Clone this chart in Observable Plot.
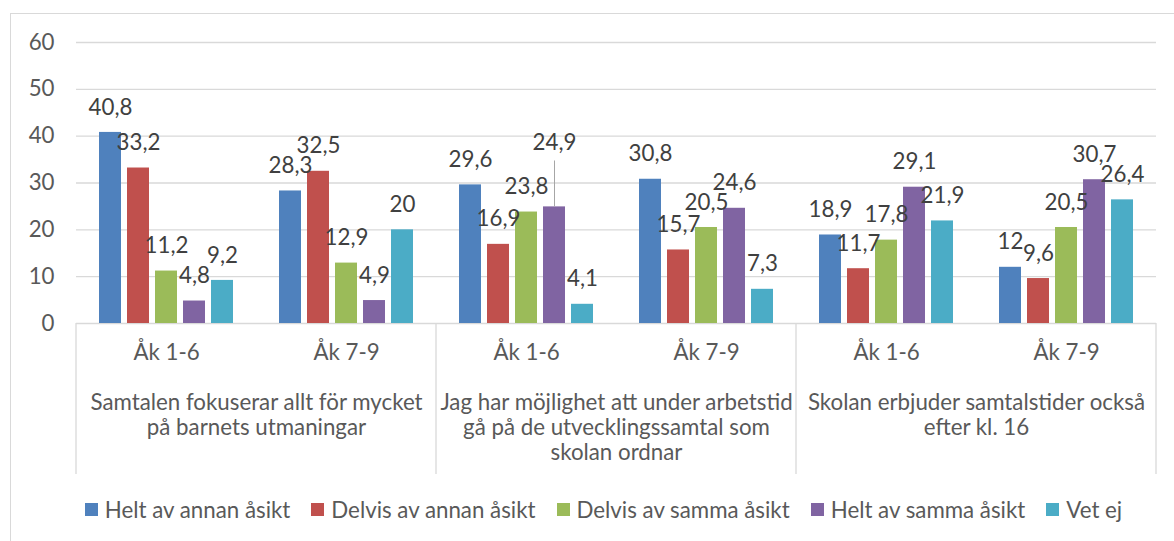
<!DOCTYPE html>
<html>
<head>
<meta charset="utf-8">
<script src="https://cdn.jsdelivr.net/npm/d3@7"></script>
<script src="https://cdn.jsdelivr.net/npm/@observablehq/plot@0.6"></script>
<style>
  html, body { margin: 0; padding: 0; background: #fff; overflow: hidden; width: 1174px; height: 541px; }
  #wrap { position: relative; width: 1174px; height: 541px; font-family: Lato, sans-serif; }
  #border { position: absolute; left: 10px; top: 13px; width: 1200px; height: 600px; border: 1.5px solid #d9d9d9; pointer-events: none; }
  #chart { position: absolute; left: 0; top: 0; }
  #legend { position: absolute; left: 0; top: 496px; width: 1174px; box-sizing: border-box; padding-left: 33px;
            display: flex; justify-content: center; gap: 21px; font-size: 22.3px; color: #595959; }
  .item { display: flex; align-items: center; gap: 7px; white-space: nowrap; }
  .sw { width: 13px; height: 13px; display: inline-block; }
</style>
</head>
<body>
<div id="wrap">
  <div id="border"></div>
  <div id="chart"></div>
  <div id="legend"></div>
</div>
<script>
// ---- data ----
const questions = [
  "Samtalen fokuserar allt för mycket\npå barnets utmaningar",
  "Jag har möjlighet att under arbetstid\ngå på de utvecklingssamtal som\nskolan ordnar",
  "Skolan erbjuder samtalstider också\nefter kl. 16"
];
const grades = ["Åk 1-6", "Åk 7-9"];
const seriesNames = ["Helt av annan åsikt", "Delvis av annan åsikt", "Delvis av samma åsikt", "Helt av samma åsikt", "Vet ej"];
const seriesColors = ["#4F81BD", "#C0504D", "#9BBB59", "#8064A2", "#4BACC6"];
// values per series, in order: Q1 Åk1-6, Q1 Åk7-9, Q2 Åk1-6, Q2 Åk7-9, Q3 Åk1-6, Q3 Åk7-9
const heltAvAnnan   = [40.8, 28.3, 29.6, 30.8, 18.9, 12];
const delvisAvAnnan = [33.2, 32.5, 16.9, 15.7, 11.7, 9.6];
const delvisAvSamma = [11.2, 12.9, 23.8, 20.5, 17.8, 20.5];
const heltAvSamma   = [4.8, 4.9, 24.9, 24.6, 29.1, 30.7];
const vetEj         = [9.2, 20, 4.1, 7.3, 21.9, 26.4];
const yTicks = [0, 10, 20, 30, 40, 50, 60];

const seriesValues = [heltAvAnnan, delvisAvAnnan, delvisAvSamma, heltAvSamma, vetEj];
const subKeys = [];
questions.forEach((q, qi) => grades.forEach(g => subKeys.push(qi + "|" + g)));
const rows = [];
seriesNames.forEach((s, si) => seriesValues[si].forEach((v, ki) => rows.push({key: subKeys[ki], series: s, value: v})));
const isMoved = d => d.key === subKeys[2] && d.series === seriesNames[3]; // 24,9 label moved up with leader
const groupRows = questions.map((q, qi) => ({key: qi + "|" + grades[0], label: q}));
const fmt = d => String(d.value).replace(".", ",");
const FS = 22.3;

const chart = Plot.plot({
  width: 1174,
  height: 490,
  marginLeft: 74,
  marginRight: 16,
  marginTop: 42,
  marginBottom: 167,
  style: {fontFamily: "Lato, sans-serif", fontSize: FS + "px", color: "#595959", background: "transparent"},
  fx: {domain: subKeys, padding: 0, label: null},
  x: {domain: seriesNames, paddingInner: 0.21, paddingOuter: 0.72, axis: null},
  y: {domain: [0, 60], label: null},
  color: {domain: seriesNames, range: seriesColors},
  marks: [
    Plot.gridY(yTicks, {stroke: "#d9d9d9", strokeOpacity: 1, strokeWidth: 1.3}),
    Plot.axisY(yTicks, {tickSize: 0, tickPadding: 22, color: "#595959", fontSize: FS, label: null}),
    Plot.axisFx({anchor: "bottom", tickSize: 0, tickPadding: 21, label: null, color: "#595959", fontSize: FS,
                 tickFormat: k => k.split("|")[1]}),
    Plot.barY(rows, {fx: "key", x: "series", y: "value", fill: "series"}),
    Plot.text(rows.filter(d => !isMoved(d)), {fx: "key", x: "series", y: "value", text: fmt, dy: -25, fill: "#404040", fontSize: FS}),
    Plot.ruleX(rows.filter(isMoved), {fx: "key", x: "series", y1: "value", y2: d => d.value + 9.8, stroke: "#a6a6a6", strokeWidth: 1}),
    Plot.text(rows.filter(isMoved), {fx: "key", x: "series", y: "value", text: fmt, dy: -64, fill: "#404040", fontSize: FS}),
    Plot.text(groupRows, {fx: "key", text: "label", frameAnchor: "bottom-right", textAnchor: "middle", lineAnchor: "top",
                          dy: 69, lineHeight: 1.12, fill: "#595959", fontSize: FS})
  ]
});

// category separators below the axis, placed with the fx scale
const fxS = chart.scale("fx");
const yS = chart.scale("y");
const y0 = yS.apply(0);
const seps = [0, 2, 4].map(i => fxS.apply(subKeys[i])).concat([fxS.apply(subKeys[5]) + fxS.bandwidth]);
const svg = d3.select(chart);
svg.append("g").selectAll("line").data(seps).join("line")
  .attr("x1", d => d).attr("x2", d => d)
  .attr("y1", y0).attr("y2", y0 + 151)
  .attr("stroke", "#d9d9d9").attr("stroke-width", 1.3);

document.getElementById("chart").appendChild(chart);

const legend = d3.select("#legend");
seriesNames.forEach((s, i) => {
  const it = legend.append("div").attr("class", "item");
  it.append("span").attr("class", "sw").style("background", seriesColors[i]);
  it.append("span").text(s);
});
</script>
</body>
</html>
